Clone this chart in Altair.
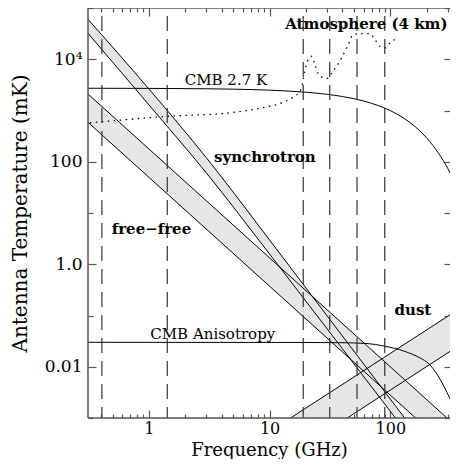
import altair as alt
import pandas as pd

# ---------------- data (frequency in GHz, antenna temperature in mK) ----------------
cmb_nu = [0.3, 1, 3, 5, 10, 20, 30, 40, 50, 60, 70, 80, 100, 115, 130, 160, 180, 200,
          225, 250, 275, 300, 325, 350, 375, 400]
cmb_t = [2718, 2701, 2654, 2607, 2493, 2273, 2068, 1877, 1699, 1534, 1382, 1242, 996, 839,
         703, 488, 379, 292, 209, 149, 105, 73.4, 51.1, 35.4, 24.4, 16.8]

aniso_nu = [0.3, 17.8, 38.2, 64, 88.5, 132, 176, 209, 243, 294, 324, 349, 365]
aniso_t = [0.0300, 0.0298, 0.0295, 0.0284, 0.0254, 0.0199, 0.0149, 0.0114, 0.0072,
           0.0032, 0.0019, 0.0010, 0.0006]

# synchrotron (curved, steepening) band
sync_nu = [0.3, 1, 3, 10, 30, 100, 300]
sync_hi = [67300, 2636, 118.9, 2.97, 0.098, 0.002344, 7.76e-5]
sync_lo = [35970, 1291, 60.1, 1.58, 0.0548, 0.001352, 4.6e-5]

# free-free band
ff_nu = [0.3, 400]
ff_hi = [2299, 5.24e-4]
ff_lo = [642, 1.47e-4]

# dust band
dust_nu = [5, 400]
dust_hi = [1.89e-4, 0.1507]
dust_lo = [3.63e-5, 0.02901]

atm_nu = [0.324, 1.49, 4.6, 8.64, 12.6, 15.3, 18.2, 19.6, 20.9, 22.3, 23.7, 26.1, 29.7,
          33.6, 39.5, 44.8, 49.3, 56, 67.8, 74.5, 82, 90.2, 99.3, 109]
atm_t = [573, 774, 897, 1125, 1406, 1762, 2566, 5837, 9870, 11440, 7880, 4670, 4210,
         5837, 10600, 19370, 30300, 31700, 31700, 24200, 17900, 16600, 20800, 24200]

chan_nu = [0.408, 1.42, 19, 31.5, 53, 90]
chan_top = [100000, 100000, 100000, 100000, 100000, 100000]
chan_bot = [0.001, 0.001, 0.001, 0.001, 0.001, 0.001]

label_text = ["Atmosphere (4 km)", "CMB 2.7 K", "synchrotron", "free\u2212free",
              "CMB Anisotropy", "dust"]
label_nu = [63.4, 4.35, 9.14, 1.05, 3.38, 153.9]
label_t = [48100, 3900, 123, 4.86, 0.0435, 0.128]
label_weight = ["bold", "normal", "bold", "bold", "normal", "bold"]

x_major = [1, 10, 100]
x_minor = [0.4, 0.5, 0.6, 0.7, 0.8, 0.9, 2, 3, 4, 5, 6, 7, 8, 9,
           20, 30, 40, 50, 60, 70, 80, 90, 200, 300]
y_major = [0.01, 1, 100, 10000]
y_minor = [0.001, 0.1, 10, 1000, 100000]

X_DOMAIN = [0.313, 312.4]
Y_DOMAIN = [0.001, 100000]

FONT = "DejaVu Serif"
AX = "#555555"

xs = alt.Scale(type="log", domain=X_DOMAIN)
ys = alt.Scale(type="log", domain=Y_DOMAIN)


def X(field="nu", axis=None):
    return alt.X(f"{field}:Q", scale=xs, axis=axis)


def Y(field="t", axis=None):
    return alt.Y(f"{field}:Q", scale=ys, axis=axis)


# ---------------- tables ----------------
sync_df = pd.DataFrame({"nu": sync_nu, "hi": sync_hi, "lo": sync_lo})
ff_df = pd.DataFrame({"nu": ff_nu, "hi": ff_hi, "lo": ff_lo})
dust_df = pd.DataFrame({"nu": dust_nu, "hi": dust_hi, "lo": dust_lo})

rows = []
for name, nus, ts in [("s1", sync_nu, sync_hi), ("s2", sync_nu, sync_lo),
                      ("f1", ff_nu, ff_hi), ("f2", ff_nu, ff_lo),
                      ("d1", dust_nu, dust_hi), ("d2", dust_nu, dust_lo),
                      ("cmb", cmb_nu, cmb_t), ("aniso", aniso_nu, aniso_t)]:
    for n, t in zip(nus, ts):
        rows.append({"series": name, "nu": n, "t": t})
lines_df = pd.DataFrame(rows)

atm_df = pd.DataFrame({"nu": atm_nu, "t": atm_t})
chan_df = pd.DataFrame({"nu": chan_nu, "top": chan_top, "bot": chan_bot})
lab_df = pd.DataFrame({"text": label_text, "nu": label_nu, "t": label_t, "w": label_weight})

# frame: left, top and bottom edges (the right edge lies beyond the picture)
frame_v = pd.DataFrame({"nu": [X_DOMAIN[0]], "t": [Y_DOMAIN[0]], "t2": [Y_DOMAIN[1]]})
frame_h = pd.DataFrame({"nu": [X_DOMAIN[0], X_DOMAIN[0]], "nu2": [X_DOMAIN[1], X_DOMAIN[1]],
                        "t": [Y_DOMAIN[0], Y_DOMAIN[1]]})

# ---------------- marks ----------------
def band(df):
    return alt.Chart(df).mark_area(color="#e6e6e6", clip=True,
                                   interpolate="monotone").encode(
        x=X(), y=Y("hi"), y2=alt.Y2("lo"))

bands = [band(sync_df), band(ff_df), band(dust_df)]

lines = alt.Chart(lines_df).mark_line(color="black", strokeWidth=1, clip=True,
                                      interpolate="monotone").encode(
    x=X(), y=Y(), detail="series:N")

atm = alt.Chart(atm_df).mark_line(color="black", strokeWidth=1.3, strokeDash=[1.5, 4.5],
                                  clip=True, interpolate="monotone").encode(x=X(), y=Y())

chans = alt.Chart(chan_df).mark_rule(color="#333333", strokeWidth=1.2,
                                     strokeDash=[15, 8], strokeDashOffset=15).encode(
    x=X(), y=Y("top"), y2=alt.Y2("bot"))

labs_bold = alt.Chart(lab_df[lab_df.w == "bold"]).mark_text(
    font=FONT, fontSize=15, fontWeight="bold", color="black").encode(
    x=X(), y=Y(), text="text:N")
labs_norm = alt.Chart(lab_df[lab_df.w == "normal"]).mark_text(
    font=FONT, fontSize=15, color="black").encode(
    x=X(), y=Y(), text="text:N")

frame1 = alt.Chart(frame_v).mark_rule(color=AX, strokeWidth=1.5).encode(
    x=X(), y=Y(), y2=alt.Y2("t2"))
frame2 = alt.Chart(frame_h).mark_rule(color=AX, strokeWidth=1.5).encode(
    x=X(), x2=alt.X2("nu2"), y=Y())

# ---------------- axes (inward ticks, drawn by invisible layers) ----------------
dummy = pd.DataFrame({"nu": [1.0], "t": [1.0]})

y_lab = ("datum.value == 10000 ? '10\u2074' : datum.value == 100 ? '100' : "
         "datum.value == 1 ? '1.0' : datum.value == 0.01 ? '0.01' : ''")


def axis_layer(xaxis, yaxis):
    return alt.Chart(dummy).mark_point(opacity=0).encode(x=X(axis=xaxis), y=Y(axis=yaxis))


common = dict(domain=False, grid=False, tickColor=AX, tickWidth=1.2, minExtent=0)

ax_main = axis_layer(
    alt.Axis(orient="bottom", values=x_major, tickSize=8, offset=-8, labelPadding=2,
             labelExpr="format(datum.value, 'd')", labelFont=FONT, labelFontSize=16,
             labelColor="black", title="Frequency (GHz)", titleFont=FONT,
             titleFontSize=18, titleFontWeight="normal", titleColor="black",
             titleBaseline="alphabetic", titleY=45, **common),
    alt.Axis(orient="left", values=y_major, tickSize=8, offset=-8, labelPadding=6,
             labelExpr=y_lab, labelFont=FONT, labelFontSize=17, labelColor="black",
             title="Antenna Temperature (mK)", titleFont=FONT, titleFontSize=20,
             titleFontWeight="normal", titleColor="black", titleAngle=270,
             titleBaseline="alphabetic", titleX=-70, **common))

ax_minor = axis_layer(
    alt.Axis(orient="bottom", values=x_minor, tickSize=4, offset=-4, labels=False,
             title=None, **common),
    alt.Axis(orient="left", values=y_minor, tickSize=5, offset=-5, labels=False,
             title=None, **common))

ax_top = axis_layer(
    alt.Axis(orient="top", values=x_major, tickSize=8, offset=-8, labels=False,
             title=None, **common),
    alt.Axis(orient="right", values=y_major, tickSize=6, offset=-6, labels=False,
             title=None, **common))

ax_top_minor = axis_layer(
    alt.Axis(orient="top", values=x_minor, tickSize=4, offset=-4, labels=False,
             title=None, **common),
    alt.Axis(orient="right", values=y_minor, tickSize=6, offset=-6, labels=False,
             title=None, **common))

chart = alt.layer(
    *bands, lines, atm, chans, labs_bold, labs_norm, frame1, frame2,
    ax_main, ax_minor, ax_top, ax_top_minor
).resolve_axis(x="independent", y="independent").properties(
    width=362, height=410,
    autosize=alt.AutoSizeParams(type="none"),
    padding={"left": 80, "right": 0, "top": 0, "bottom": 41}
).configure_view(strokeWidth=0)

chart.save("out.html", embed_options={"renderer": "svg", "actions": False})
